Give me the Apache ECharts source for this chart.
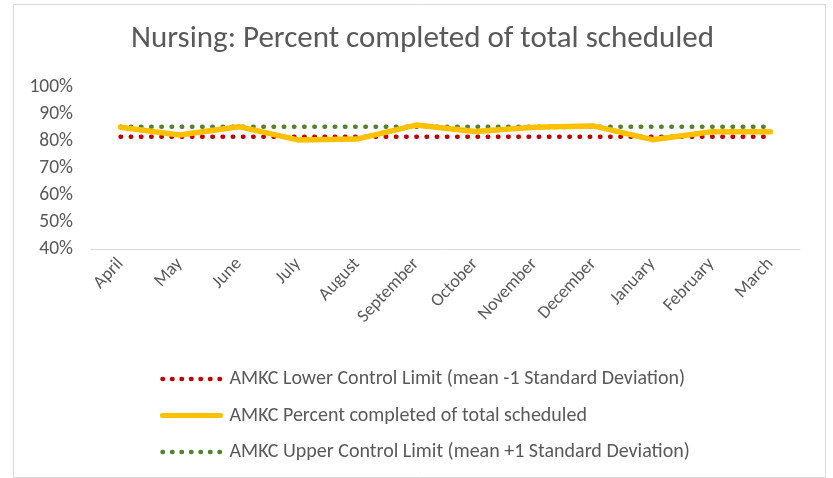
<!DOCTYPE html>
<html>
<head>
<meta charset="utf-8">
<script src="https://cdn.jsdelivr.net/npm/echarts@6/dist/echarts.min.js"></script>
<style>
html,body{margin:0;padding:0;background:#fff;}
#chart{width:833px;height:478px;}
</style>
</head>
<body>
<div id="chart"></div>
<script>
const months = ['April','May','June','July','August','September','October','November','December','January','February','March'];
const lowerLimit = [0.816,0.816,0.816,0.816,0.816,0.816,0.816,0.816,0.816,0.816,0.816,0.816];
const percentCompleted = [0.851,0.822,0.853,0.804,0.807,0.859,0.835,0.851,0.856,0.805,0.834,0.834];
const upperLimit = [0.853,0.853,0.853,0.853,0.853,0.853,0.853,0.853,0.853,0.853,0.853,0.853];
const yTicks = {min:0.4, max:1.0, interval:0.1};
const seriesNames = ['AMKC Lower Control Limit (mean -1 Standard Deviation)','AMKC Percent completed of total scheduled','AMKC Upper Control Limit (mean +1 Standard Deviation)'];

const FONT = 'Carlito, "Liberation Sans", sans-serif';
const GRAY = '#595959';
const DOT_LEG = [0.5, 9];
const chart = echarts.init(document.getElementById('chart'));
chart.setOption({
  animation:false,
  backgroundColor:'#fff',
  textStyle:{fontFamily:FONT},
  title:{
    text:'Nursing: Percent completed of total scheduled',
    left:131, top:24, padding:0,
    textStyle:{fontFamily:FONT,fontSize:31,fontWeight:'normal',color:GRAY}
  },
  graphic:[{type:'rect',shape:{x:13.5,y:4.5,width:812,height:473},style:{fill:'none',stroke:'#d9d9d9',lineWidth:1},silent:true}],
  grid:{left:91,right:33,top:87,bottom:229},
  legend:{
    orient:'vertical', left:155, top:364, itemGap:16.5, itemWidth:58, itemHeight:14,
    itemStyle:{opacity:0},
    textStyle:{fontFamily:FONT,fontSize:20,color:GRAY,padding:[0,0,0,4]},
    data:[
      {name:seriesNames[0],lineStyle:{width:4.5,type:DOT_LEG,cap:'round',color:'#c00000'}},
      {name:seriesNames[1],lineStyle:{width:5,type:'solid',cap:'round',color:'#ffc000'}},
      {name:seriesNames[2],lineStyle:{width:4.5,type:DOT_LEG,cap:'round',color:'#548235'}}
    ]
  },
  xAxis:{
    type:'category', data:months, boundaryGap:true,
    axisLine:{lineStyle:{color:'#d9d9d9',width:1}},
    axisTick:{show:false},
    axisLabel:{rotate:47,fontFamily:FONT,fontSize:18,color:GRAY,margin:12,interval:0}
  },
  yAxis:{
    type:'value', min:yTicks.min, max:yTicks.max, interval:yTicks.interval,
    axisLine:{show:false}, axisTick:{show:false}, splitLine:{show:false},
    axisLabel:{fontFamily:FONT,fontSize:19.5,color:GRAY,margin:18,formatter:v=>Math.round(v*100)+'%'}
  },
  series:[
    {name:seriesNames[0],type:'line',data:lowerLimit,symbol:'none',
     lineStyle:{color:'#c00000',width:4.5,type:[0.5,9.7],cap:'round'},itemStyle:{color:'#c00000'},z:2},
    {name:seriesNames[1],type:'line',data:percentCompleted,symbol:'none',
     lineStyle:{color:'#ffc000',width:5.5,cap:'round',join:'round'},itemStyle:{color:'#ffc000'},z:3},
    {name:seriesNames[2],type:'line',data:upperLimit,symbol:'none',
     lineStyle:{color:'#548235',width:4.5,type:[0.5,9.7],cap:'round'},itemStyle:{color:'#548235'},z:2}
  ]
});
</script>
</body>
</html>
